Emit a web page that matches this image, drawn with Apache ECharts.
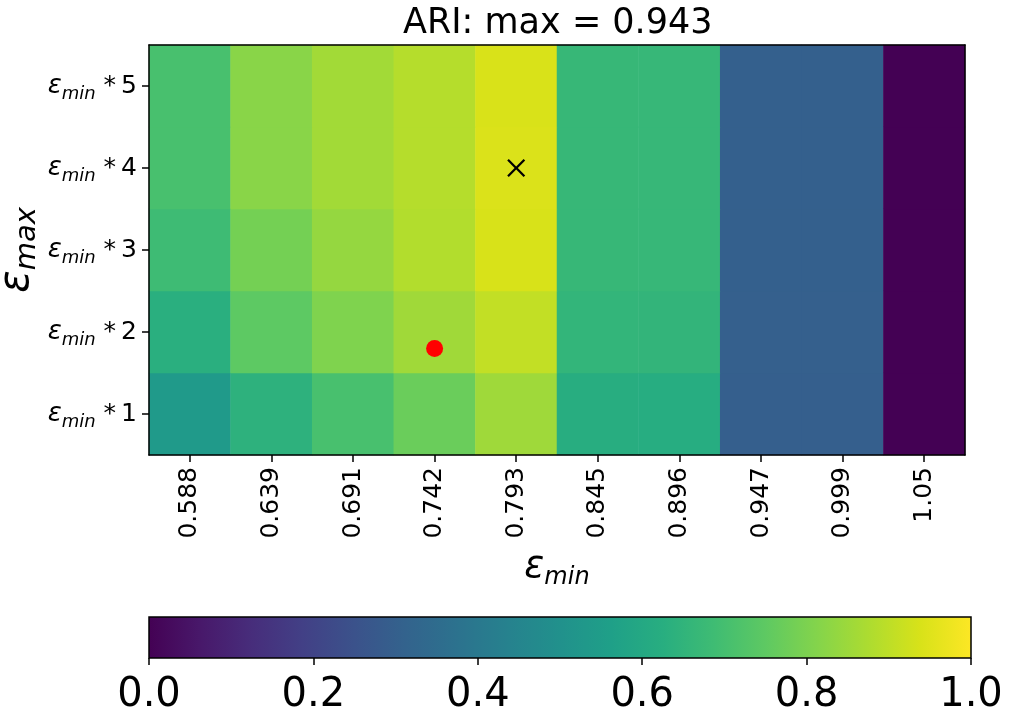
<!DOCTYPE html>
<html>
<head>
<meta charset="utf-8">
<script src="https://cdn.jsdelivr.net/npm/echarts@6/dist/echarts.min.js"></script>
<style>
html,body{margin:0;padding:0;background:#fff;}
#chart{width:1009px;height:713px;}
</style>
</head>
<body>
<div id="chart"></div>
<script>
// ---- data ----
const xLabels = ['0.588','0.639','0.691','0.742','0.793','0.845','0.896','0.947','0.999','1.05'];
const yMultipliers = ['1','2','3','4','5'];
// ARI values per row (eps_max = eps_min * k), one value per eps_min column
const ariRow1 = [0.538, 0.640, 0.705, 0.770, 0.853, 0.622, 0.621, 0.298, 0.298, 0.0];
const ariRow2 = [0.630, 0.748, 0.804, 0.855, 0.905, 0.655, 0.654, 0.300, 0.300, 0.0];
const ariRow3 = [0.685, 0.787, 0.838, 0.882, 0.938, 0.666, 0.665, 0.301, 0.301, 0.0];
const ariRow4 = [0.705, 0.820, 0.858, 0.887, 0.943, 0.666, 0.665, 0.301, 0.301, 0.0];
const ariRow5 = [0.705, 0.820, 0.858, 0.887, 0.940, 0.666, 0.665, 0.301, 0.301, 0.0];
const maxMarker = [4, 3];    // column index, row index of maximum
const refMarker = [3, 0.8];  // red reference point
const colorbarTicks = [0, 0.2, 0.4, 0.6, 0.8, 1.0];
const viridis = ['#440154','#48186a','#472d7b','#424086','#3b528b','#33638d','#2c728e','#26828e',
  '#21918c','#1fa088','#28ae80','#3fbc73','#5ec962','#84d44b','#addc30','#d8e219','#fde725'];

const rows = [ariRow1, ariRow2, ariRow3, ariRow4, ariRow5];
const heatData = [];
rows.forEach((r, yi) => r.forEach((v, xi) => heatData.push([xi, yi, v])));

const FF = 'DejaVu Sans';
const chart = echarts.init(document.getElementById('chart'));
const gridMain = {left: 149, top: 45, width: 816, height: 410, containLabel: false, outerBoundsMode: 'none'};

const option = {
  backgroundColor: '#fff',
  animation: false,
  title: {
    text: 'ARI: max = 0.943',
    left: 398, top: 1,
    textStyle: {fontFamily: FF, fontSize: 35, fontWeight: 'normal', color: '#000'}
  },
  grid: [
    Object.assign({}, gridMain),
    Object.assign({}, gridMain),
    {left: 149, top: 617, width: 822, height: 41, containLabel: false, outerBoundsMode: 'none'}
  ],
  visualMap: {
    show: false, type: 'continuous', min: 0, max: 1, seriesIndex: 0, dimension: 2,
    inRange: {color: viridis}
  },
  xAxis: [
    {
      type: 'category', gridIndex: 0, data: xLabels, position: 'bottom', z: 10,
      axisLine: {show: true, lineStyle: {color: '#000', width: 1.5}},
      axisTick: {show: true, alignWithLabel: true, length: 7, lineStyle: {color: '#000', width: 1.5}},
      axisLabel: {rotate: 90, fontSize: 25, fontFamily: FF, color: '#000', margin: 12, interval: 0},
      splitLine: {show: false},
      name: '{e|ε}{s|min}', nameLocation: 'middle', nameGap: 89,
      nameTextStyle: {
        rich: {
          e: {fontFamily: FF, fontStyle: 'italic', fontSize: 37, color: '#000', lineHeight: 46, verticalAlign: 'middle'},
          s: {fontFamily: FF, fontStyle: 'italic', fontSize: 24, color: '#000', lineHeight: 24, verticalAlign: 'bottom'}
        }
      }
    },
    {
      type: 'value', gridIndex: 1, min: -0.5, max: 9.5, position: 'top', z: 10,
      axisLine: {show: true, onZero: false, lineStyle: {color: '#000', width: 1.5}},
      axisTick: {show: false}, axisLabel: {show: false}, splitLine: {show: false}
    },
    {
      type: 'value', gridIndex: 2, min: 0, max: 1, interval: 0.2, position: 'bottom',
      axisLine: {show: false},
      axisTick: {show: true, length: 7, lineStyle: {color: '#000', width: 1.5}},
      axisLabel: {fontSize: 40, fontFamily: FF, color: '#000', margin: 18, formatter: v => v.toFixed(1)},
      splitLine: {show: false}
    }
  ],
  yAxis: [
    {
      type: 'category', gridIndex: 0, data: yMultipliers, position: 'left', z: 10,
      axisLine: {show: true, lineStyle: {color: '#000', width: 1.5}},
      axisTick: {show: true, alignWithLabel: true, length: 7, lineStyle: {color: '#000', width: 1.5}},
      axisLabel: {
        margin: 12, interval: 0,
        formatter: v => '{e|ε}{s|min}{n| *\u2009' + v + '}',
        rich: {
          e: {fontFamily: FF, fontStyle: 'italic', fontSize: 26, color: '#000', lineHeight: 34, verticalAlign: 'middle'},
          s: {fontFamily: FF, fontStyle: 'italic', fontSize: 18, color: '#000', lineHeight: 18, verticalAlign: 'bottom'},
          n: {fontFamily: FF, fontSize: 25, color: '#000', lineHeight: 34, verticalAlign: 'middle'}
        }
      },
      splitLine: {show: false},
      name: '{e|ε}{s|max}', nameLocation: 'middle', nameGap: 107, nameRotate: 90,
      nameMoveOverlap: false,
      nameTextStyle: {
        rich: {
          e: {fontFamily: FF, fontStyle: 'italic', fontSize: 42, color: '#000', lineHeight: 50, verticalAlign: 'middle'},
          s: {fontFamily: FF, fontStyle: 'italic', fontSize: 29, color: '#000', lineHeight: 29, verticalAlign: 'bottom'}
        }
      }
    },
    {
      type: 'value', gridIndex: 1, min: -0.5, max: 4.5, position: 'right', z: 10,
      axisLine: {show: true, onZero: false, lineStyle: {color: '#000', width: 1.5}},
      axisTick: {show: false}, axisLabel: {show: false}, splitLine: {show: false}
    },
    {
      type: 'value', gridIndex: 2, min: 0, max: 1, show: false
    }
  ],
  series: [
    {
      type: 'heatmap', xAxisIndex: 0, yAxisIndex: 0, data: heatData,
      itemStyle: {borderWidth: 0},
      emphasis: {disabled: true}
    },
    {
      type: 'scatter', xAxisIndex: 1, yAxisIndex: 1, data: [refMarker],
      symbol: 'circle', symbolSize: 17, z: 5,
      itemStyle: {color: '#ff0000', opacity: 1}, emphasis: {disabled: true}
    },
    {
      type: 'scatter', xAxisIndex: 1, yAxisIndex: 1, data: [maxMarker],
      symbol: 'path://M0,0.9 L0.9,0 L5,4.1 L9.1,0 L10,0.9 L5.9,5 L10,9.1 L9.1,10 L5,5.9 L0.9,10 L0,9.1 L4.1,5 Z',
      symbolSize: 18, z: 5,
      itemStyle: {color: '#000', opacity: 1}, emphasis: {disabled: true}
    },
    {
      type: 'custom', xAxisIndex: 2, yAxisIndex: 2, data: [[colorbarTicks[0], colorbarTicks[colorbarTicks.length - 1]]],
      renderItem: function (params, api) {
        const p0 = api.coord([api.value(0), 0]);
        const p1 = api.coord([api.value(1), 1]);
        const stops = viridis.map((c, i) => ({offset: i / (viridis.length - 1), color: c}));
        return {
          type: 'rect',
          shape: {x: p0[0], y: p1[1], width: p1[0] - p0[0], height: p0[1] - p1[1]},
          style: {
            fill: {type: 'linear', x: 0, y: 0, x2: 1, y2: 0, colorStops: stops},
            stroke: '#000', lineWidth: 1.5
          }
        };
      }
    }
  ]
};
chart.setOption(option);
</script>
</body>
</html>
